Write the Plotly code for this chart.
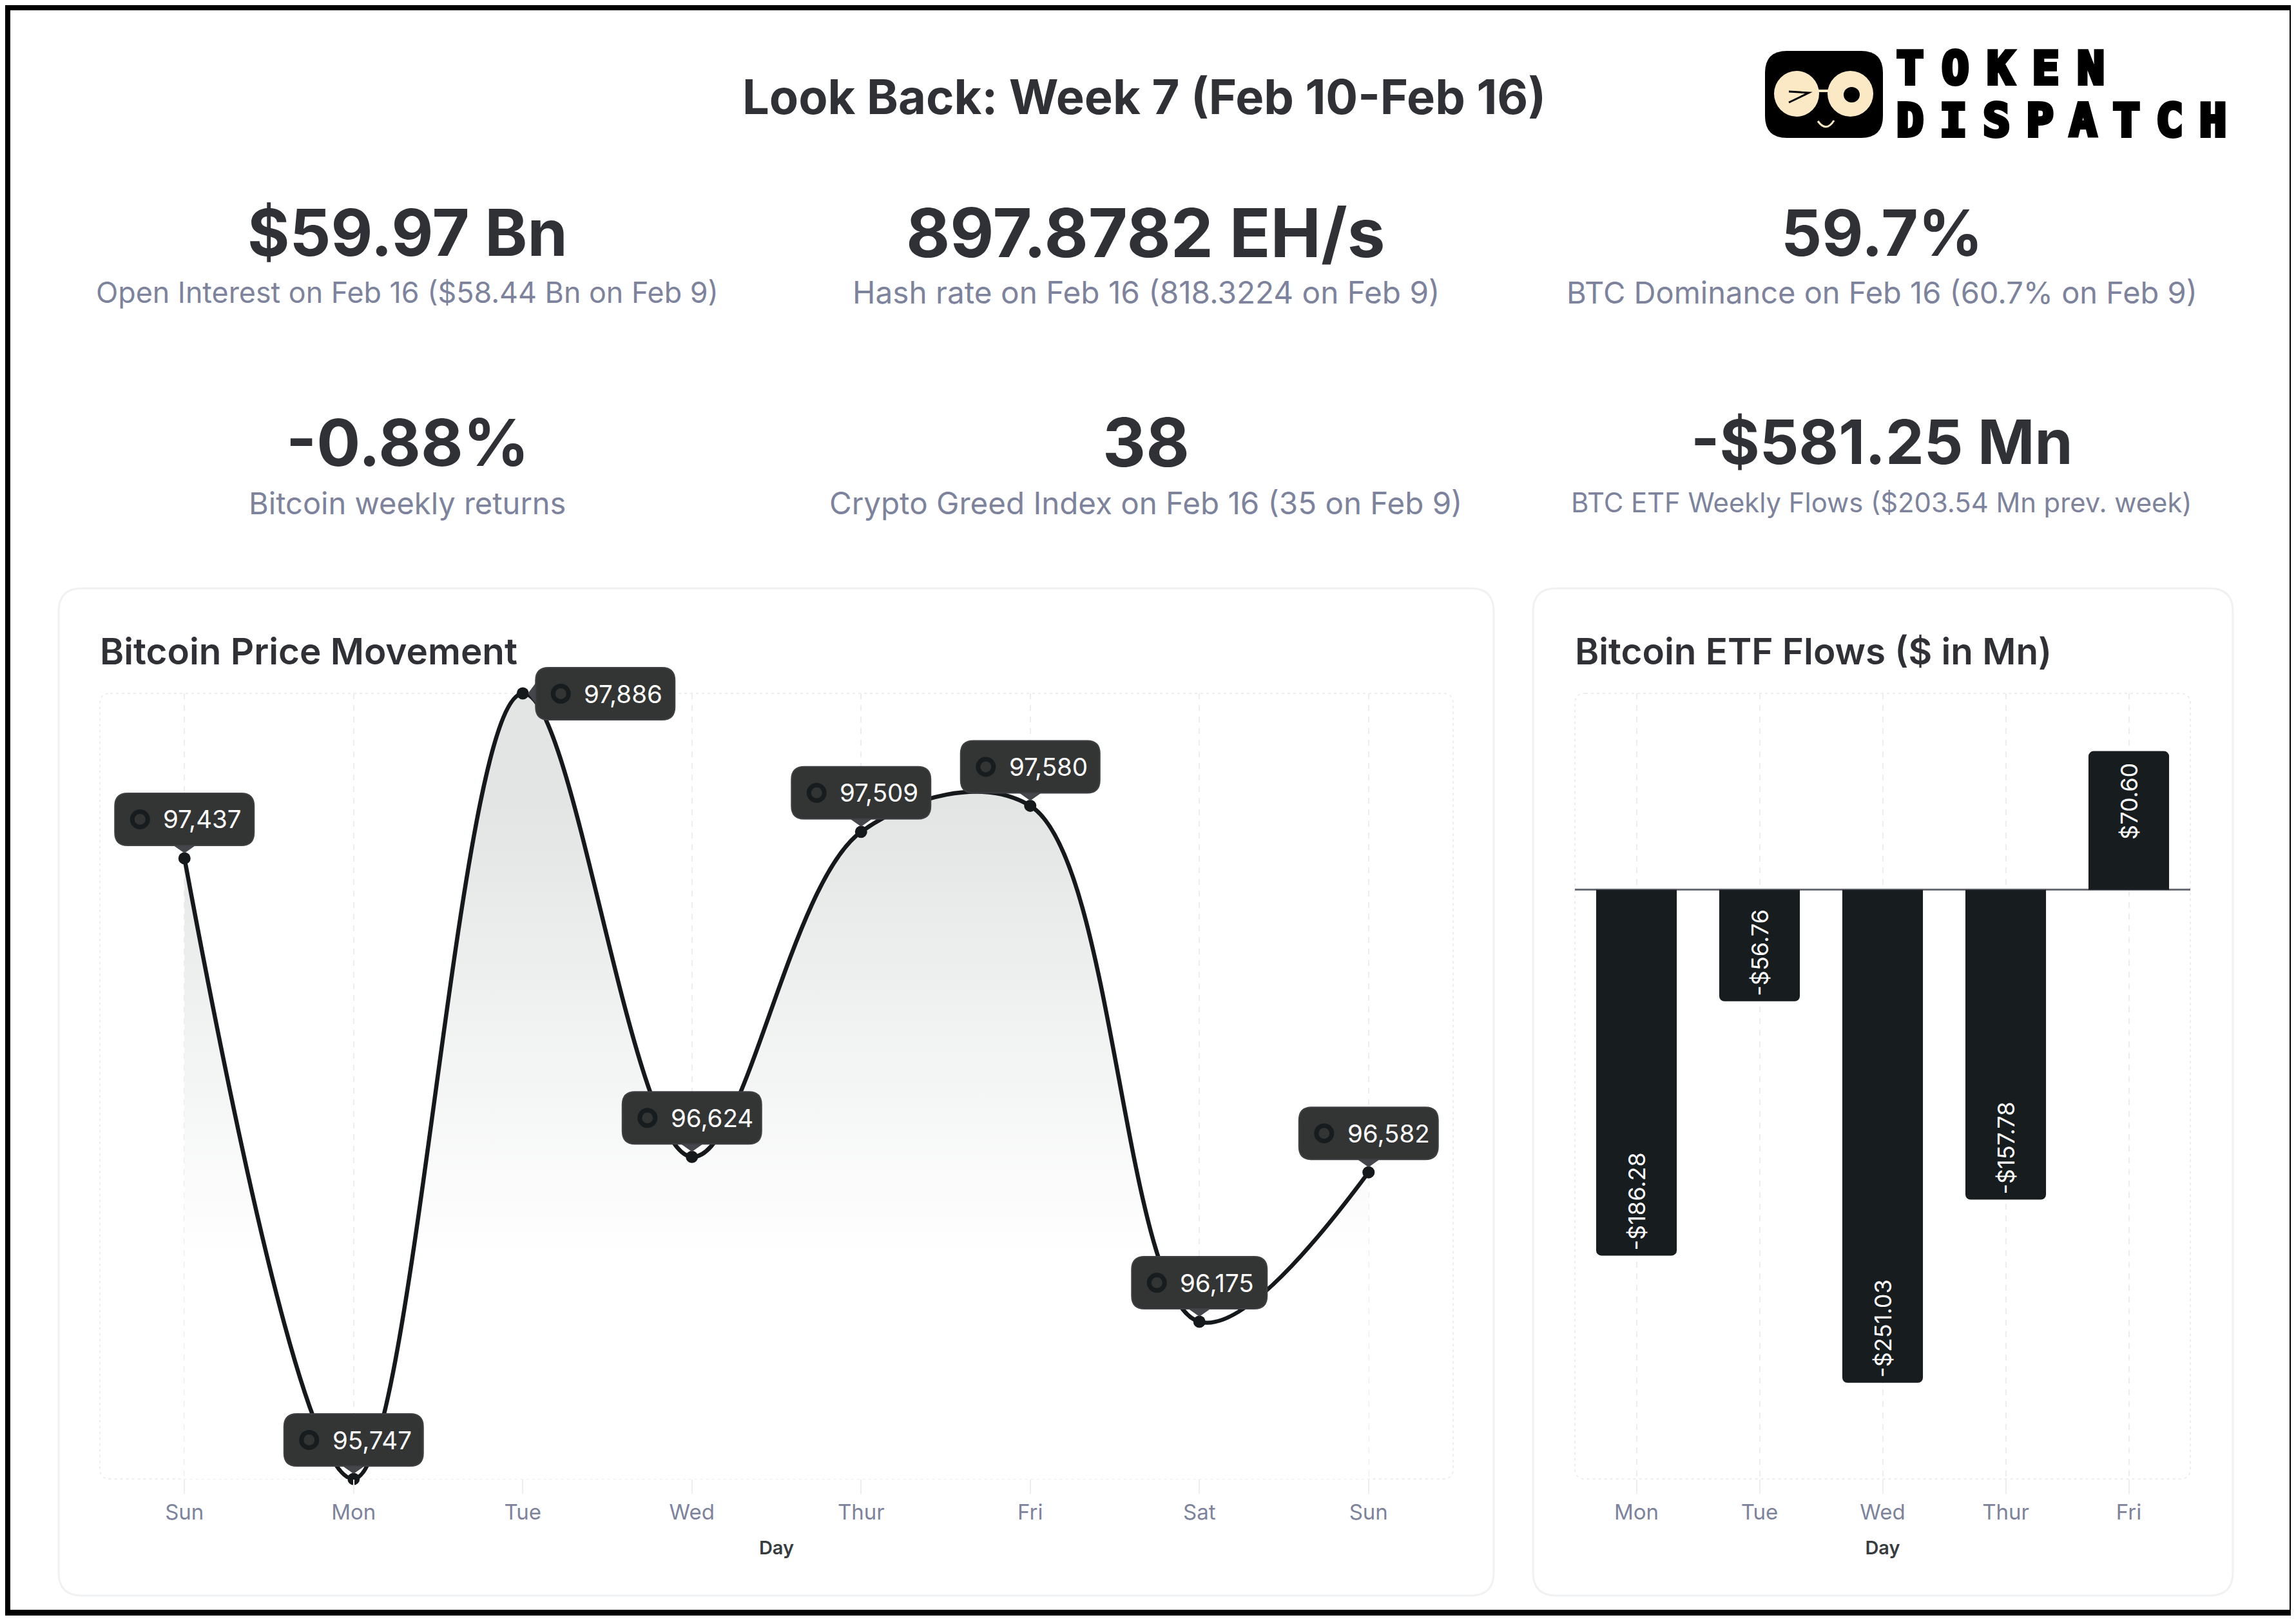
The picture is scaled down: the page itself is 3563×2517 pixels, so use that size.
import plotly.graph_objects as go

price_days = ["Sun", "Mon", "Tue", "Wed", "Thur", "Fri", "Sat", "Sun"]
price_values = [97437, 95747, 97886, 96624, 97509, 97580, 96175, 96582]

flow_days = ["Mon", "Tue", "Wed", "Thur", "Fri"]
flow_values = [-186.28, -56.76, -251.03, -157.78, 70.60]

stat_big = ["$59.97 Bn", "897.8782 EH/s", "59.7%", "-0.88%", "38", "-$581.25 Mn"]
stat_small = [
    "Open Interest on Feb 16 ($58.44 Bn on Feb 9)",
    "Hash rate on Feb 16 (818.3224 on Feb 9)",
    "BTC Dominance on Feb 16 (60.7% on Feb 9)",
    "Bitcoin weekly returns",
    "Crypto Greed Index on Feb 16 (35 on Feb 9)",
    "BTC ETF Weekly Flows ($203.54 Mn prev. week)",
]
big_sizes = [100, 105, 99, 101, 104, 95]
small_sizes = [44.8, 47.7, 47, 47, 47.5, 41.8]

# page has an 8px body margin, so everything is shifted by that
OFF = 8
W = 3555
H = 2509
FONT = "Inter"
DARK = "#2f3136"
GREY = "#7d839c"
BAR = "#171c1f"
GRID = "#eceeee"


def px(x):
    return (x - OFF) / W


def py(y):
    return 1 - (y - OFF) / H


def rounded(x0, y0, x1, y1, r):
    p = [
        (x0 + r, y0), (x1 - r, y0), (x1, y0), (x1, y0 + r), (x1, y1 - r), (x1, y1),
        (x1 - r, y1), (x0 + r, y1), (x0, y1), (x0, y1 - r), (x0, y0 + r), (x0, y0), (x0 + r, y0),
    ]
    p = [f"{px(a):.6f},{py(b):.6f}" for a, b in p]
    return (f"M{p[0]} L{p[1]} Q{p[2]} {p[3]} L{p[4]} Q{p[5]} {p[6]} L{p[7]} "
            f"Q{p[8]} {p[9]} L{p[10]} Q{p[11]} {p[12]} Z")


def add_text(text, x, y, size, color, weight=400, anchor="center", family=FONT):
    fig.add_annotation(text=text, x=px(x), y=py(y), xref="paper", yref="paper", showarrow=False,
                       xanchor=anchor, yanchor="middle",
                       font=dict(family=family, size=size, color=color, weight=weight))


# plot boxes, in page pixels
A_L, A_R, A_T, A_B = 155, 2255, 1076, 2295
B_L, B_R, B_T, B_B = 2444, 3399, 1076, 2295

fig = go.Figure()

# area under the price line, clipped to the plot
fig.add_trace(go.Scatter(
    x=list(range(8)), y=price_values, mode="lines", fill="tozeroy",
    line=dict(shape="spline", smoothing=1.0, width=0, color="rgba(0,0,0,0)"),
    fillgradient=dict(type="vertical", start=97580, stop=96350,
                      colorscale=[[0, "#e3e5e5"], [1, "#ffffff"]]),
    hoverinfo="skip", showlegend=False))
fig.add_trace(go.Scatter(
    x=list(range(8)), y=price_values, mode="lines+markers", cliponaxis=False,
    line=dict(shape="spline", smoothing=1.0, width=6.5, color="#15191c"),
    marker=dict(size=19, color="#15191c"), showlegend=False))

# the nbsp pushes the one positive label away from the bar top
fig.add_trace(go.Bar(
    x=flow_days, y=flow_values, xaxis="x2", yaxis="y2", marker=dict(color=BAR, line_width=0),
    text=[f"-${abs(v):.2f}" if v < 0 else f"${v:.2f}\u00a0" for v in flow_values],
    textposition="inside", insidetextanchor="end", textangle=-90, constraintext="none",
    insidetextfont=dict(family=FONT, size=36, color="white"), showlegend=False))

axis_common = dict(
    showgrid=True, griddash="dash", gridcolor=GRID, gridwidth=2, ticks="outside", ticklen=22,
    tickcolor=GRID, tickwidth=2, showline=False, zeroline=False,
    tickfont=dict(family=FONT, size=33, color=GREY),
    title=dict(text="Day", font=dict(family=FONT, size=29, color="#373d3f", weight=600), standoff=27),
)
fig.update_layout(
    width=W, height=H, margin=dict(l=0, r=0, t=0, b=0), autosize=False,
    paper_bgcolor="white", plot_bgcolor="rgba(0,0,0,0)", showlegend=False,
    bargap=0.345, barcornerradius=8,
    xaxis=dict(domain=[px(A_L), px(A_R)], range=[-0.5, 7.5], tickmode="array",
               tickvals=list(range(8)), ticktext=price_days, **axis_common),
    yaxis=dict(domain=[py(A_B), py(A_T)], range=[95747, 97886], visible=False),
    xaxis2=dict(domain=[px(B_L), px(B_R)], anchor="y2", **axis_common),
    yaxis2=dict(domain=[py(B_B), py(B_T)], range=[-300, 100], anchor="x2", showgrid=False,
                showticklabels=False, ticks="", zeroline=True, zerolinecolor="#6b6e78", zerolinewidth=3),
)

shapes = []
# outer frame
shapes.append(dict(type="rect", xref="paper", yref="paper", x0=px(11.5), x1=px(3557.5), y0=py(11.5),
                   y1=py(2502.5), line=dict(color="black", width=9), layer="below"))
# cards and dashed plot borders
for box in [(91, 913, 2318, 2476), (2379, 913, 3465, 2476)]:
    shapes.append(dict(type="path", xref="paper", yref="paper", path=rounded(*box, 36),
                       line=dict(color="#f0f1f3", width=3), layer="below"))
for box in [(A_L, A_T, A_R, A_B), (B_L, B_T, B_R, B_B)]:
    shapes.append(dict(type="path", xref="paper", yref="paper", path=rounded(*box, 16),
                       line=dict(color=GRID, width=2, dash="4px,5px"), layer="below"))


# tooltip boxes on the price chart
def tooltip(i, value):
    x = A_L + (i + 0.5) * (A_R - A_L) / 8
    y = A_T + (97886 - value) * (A_B - A_T) / (97886 - 95747)
    txt = f"{value:,}"
    w = 210 if "1" in txt else 216
    if value == max(price_values):
        x0, y0 = x + 20, y - 40
        pointer = [(x0, y - 16), (x + 8, y), (x0, y + 16)]
    else:
        x0, y0 = x - w / 2, y - 101
        pointer = [(x - 17, y0 + 81), (x, y - 8), (x + 17, y0 + 81)]
    x1, y1 = x0 + w, y0 + 81
    shapes.append(dict(type="path", xref="paper", yref="paper", line_width=0, fillcolor="#45464b",
                       path="M" + " L".join(f"{px(a):.6f},{py(b):.6f}" for a, b in pointer) + " Z"))
    shapes.append(dict(type="path", xref="paper", yref="paper", path=rounded(x0, y0, x1, y1, 20),
                       fillcolor="#333434", line=dict(color="#3f4043", width=2)))
    cy = (y0 + y1) / 2
    shapes.append(dict(type="circle", xref="paper", yref="paper", x0=px(x0 + 27), x1=px(x0 + 51),
                       y0=py(cy - 12), y1=py(cy + 12), fillcolor="#333434",
                       line=dict(color=BAR, width=7)))
    add_text(txt, x0 + 73, cy, 38.5, "white", anchor="left")


for i, v in enumerate(price_values):
    tooltip(i, v)

# logo
LOGO = "#000000"
CREAM = "#fbe8c4"
shapes.append(dict(type="path", xref="paper", yref="paper", path=rounded(2739, 79, 2922, 214, 34),
                   fillcolor=LOGO, line_width=0))
for a, b, c, d, col in [(2753, 110, 2823, 181, CREAM), (2836, 110, 2907, 181, CREAM),
                        (2861, 135, 2886, 159, LOGO)]:
    shapes.append(dict(type="circle", xref="paper", yref="paper", x0=px(a), x1=px(c), y0=py(b), y1=py(d),
                       fillcolor=col, line_width=0))
shapes.append(dict(type="rect", xref="paper", yref="paper", x0=px(2822), x1=px(2837), y0=py(139), y1=py(143),
                   fillcolor=CREAM, line_width=0))
shapes.append(dict(type="path", xref="paper", yref="paper", line=dict(color=LOGO, width=3),
                   path=f"M{px(2776)},{py(142)} L{px(2807)},{py(144)} L{px(2776)},{py(159)}"))
shapes.append(dict(type="path", xref="paper", yref="paper", line=dict(color=CREAM, width=3),
                   path=f"M{px(2821)},{py(188)} Q{px(2834)},{py(206)} {px(2846)},{py(187)}"))
fig.update_layout(shapes=shapes)

logo_style = "stroke:black;stroke-width:6px;letter-spacing:{}px"
add_text(f'<span style="{logo_style.format(28)}">TOKEN</span>', 2941, 106, 70, "black", 700, "left",
         "DejaVu Sans Mono")
add_text(f'<span style="{logo_style.format(25)}">DISPATCH</span>', 2941, 187, 70, "black", 700, "left",
         "DejaVu Sans Mono")

# headings
add_text("Look Back: Week 7 (Feb 10-Feb 16)", 1775, 150, 74, DARK, 700)
add_text("Bitcoin Price Movement", 153, 1010, 56.6, DARK, 600, "left")
add_text("Bitcoin ETF Flows ($ in Mn)", 2442, 1010, 56.6, DARK, 600, "left")

# stat blocks
stat_x = [632, 1778, 2920]
stat_y = [(361, 454), (686, 780)]
for k, (big, small) in enumerate(zip(stat_big, stat_small)):
    x = stat_x[k % 3]
    y_big, y_small = stat_y[k // 3]
    add_text(big, x, y_big, big_sizes[k], DARK, 700)
    add_text(small, x, y_small, small_sizes[k], GREY)

fig.write_html("out.html")
